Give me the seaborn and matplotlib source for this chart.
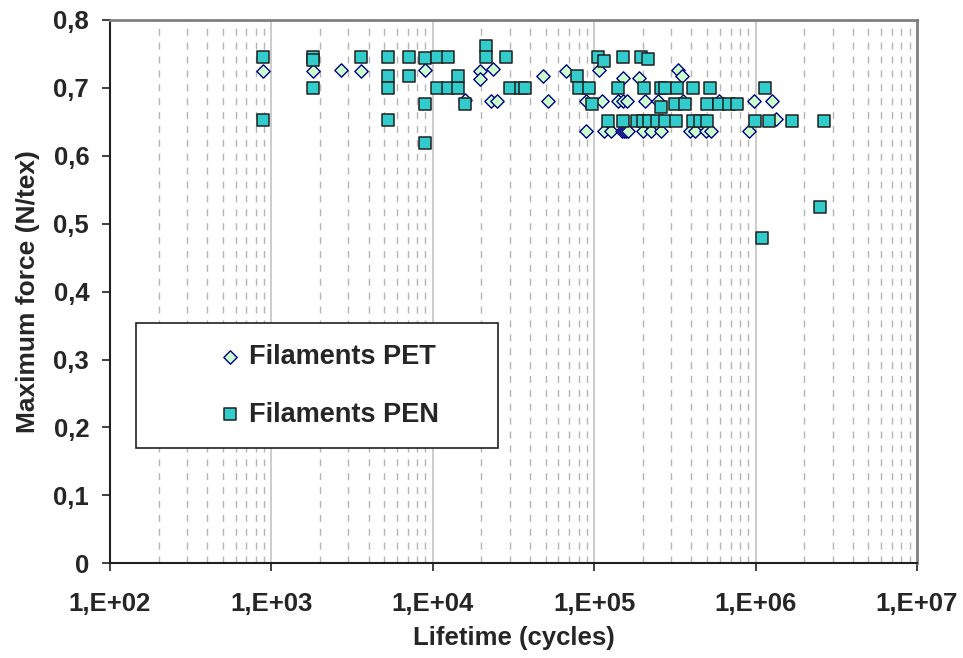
import numpy as np
import pandas as pd
import seaborn as sns
import matplotlib.pyplot as plt
from matplotlib.patches import Rectangle

# PET filaments (diamonds)
pet_life = [890, 1800, 2700, 3600, 9000,
            1.59e4, 1.96e4, 1.96e4, 2.35e4, 2.3e4, 2.5e4, 4.8e4, 5.2e4, 6.7e4,
            8.9e4, 1.11e5, 1.41e5, 1.5e5, 1.59e5, 2.06e5, 2.5e5, 3.56e5, 5.95e5, 9.8e5, 1.27e6,
            1.07e5, 1.51e5, 1.89e5, 3.3e5, 3.5e5,
            8.9e4, 1.15e5, 1.27e5, 1.48e5, 1.53e5, 1.58e5, 1.63e5, 2.0e5, 2.24e5, 2.6e5,
            3.9e5, 4.2e5, 4.9e5, 5.3e5, 9.1e5,
            1.34e6]
pet_force = [0.725, 0.725, 0.727, 0.725, 0.727,
             0.682, 0.725, 0.713, 0.728, 0.681, 0.681, 0.718, 0.681, 0.725,
             0.681, 0.681, 0.681, 0.681, 0.681, 0.681, 0.681, 0.681, 0.681, 0.681, 0.681,
             0.727, 0.715, 0.714, 0.727, 0.718,
             0.636, 0.636, 0.636, 0.636, 0.636, 0.636, 0.636, 0.636, 0.636, 0.636,
             0.636, 0.636, 0.636, 0.636, 0.636,
             0.654]

# PEN filaments (squares)
pen_life = [890, 890, 1800, 1800, 1800, 3570,
            5300, 5300, 5300, 5300, 7100, 7100, 8970, 8970, 8970,
            1.06e4, 1.24e4, 1.06e4, 1.24e4, 1.43e4, 1.43e4, 1.59e4,
            2.14e4, 2.14e4, 2.85e4, 3.0e4, 3.5e4, 3.7e4,
            7.8e4, 8.0e4, 9.3e4, 1.05e5, 1.15e5, 9.7e4,
            1.22e5, 1.5e5, 1.83e5, 2.0e5, 2.19e5, 2.44e5, 2.74e5, 3.19e5, 4.1e5, 4.5e5, 4.97e5,
            9.9e5, 1.21e6, 1.69e6, 2.65e6,
            1.41e5, 2.04e5, 2.6e5, 2.74e5, 3.24e5, 4.07e5, 5.2e5, 1.15e6,
            2.6e5, 3.16e5, 3.67e5, 4.97e5, 5.95e5, 6.8e5, 7.7e5,
            1.5e5, 1.96e5, 2.14e5,
            2.52e6, 1.1e6]
pen_force = [0.746, 0.653, 0.746, 0.741, 0.700, 0.746,
             0.746, 0.718, 0.700, 0.653, 0.746, 0.718, 0.744, 0.676, 0.619,
             0.746, 0.746, 0.700, 0.700, 0.700, 0.718, 0.676,
             0.761, 0.746, 0.746, 0.700, 0.700, 0.700,
             0.718, 0.700, 0.700, 0.745, 0.739, 0.676,
             0.652, 0.652, 0.652, 0.652, 0.652, 0.652, 0.652, 0.652, 0.652, 0.652, 0.652,
             0.652, 0.652, 0.652, 0.652,
             0.700, 0.700, 0.700, 0.700, 0.700, 0.700, 0.700, 0.700,
             0.672, 0.676, 0.676, 0.676, 0.676, 0.676, 0.676,
             0.746, 0.746, 0.742,
             0.524, 0.479]

x_ticks = [1e2, 1e3, 1e4, 1e5, 1e6, 1e7]
x_labels = ['1,E+02', '1,E+03', '1,E+04', '1,E+05', '1,E+06', '1,E+07']
y_ticks = [0, 0.1, 0.2, 0.3, 0.4, 0.5, 0.6, 0.7, 0.8]
y_labels = ['0', '0,1', '0,2', '0,3', '0,4', '0,5', '0,6', '0,7', '0,8']

sns.set_style('white')
plt.rcParams['font.family'] = ['Liberation Sans', 'DejaVu Sans']
plt.rcParams['font.weight'] = 'bold'

pet = pd.DataFrame({'life': pet_life, 'force': pet_force})
pen = pd.DataFrame({'life': pen_life, 'force': pen_force})

fig = plt.figure(figsize=(9.63, 6.58), dpi=100)
ax = fig.add_axes([110/963, 1-563.3/658, (917-110)/963, (563.3-20)/658])

sns.scatterplot(data=pet, x='life', y='force', marker='D', s=46, color='#ccffcc',
                edgecolor='#000080', linewidth=1.0, ax=ax, label='Filaments PET', zorder=3)
sns.scatterplot(data=pen, x='life', y='force', marker='s', s=72, color='#33cccc',
                edgecolor='#202020', linewidth=1.1, ax=ax, label='Filaments PEN', zorder=4)

ax.set_xscale('log')
ax.set_xlim(1e2, 1e7)
ax.set_ylim(0, 0.8)
ax.set_xticks(x_ticks)
ax.set_xticklabels(x_labels)
ax.set_yticks(y_ticks)
ax.set_yticklabels(y_labels)
ax.xaxis.set_minor_locator(plt.matplotlib.ticker.LogLocator(base=10, subs=np.arange(2, 10)))
ax.xaxis.set_minor_formatter(plt.matplotlib.ticker.NullFormatter())

ax.grid(True, which='major', axis='x', color='#cccccc', linewidth=1.4, linestyle='-')
ax.grid(True, which='minor', axis='x', color='#b4b4b4', linewidth=1.0, linestyle=(0, (5, 5)))
ax.grid(False, axis='y')
ax.set_axisbelow(True)

ax.tick_params(axis='both', which='major', direction='out', length=6, width=1.2,
               color='#202020', labelsize=18.5, left=True, bottom=True)
ax.tick_params(axis='x', which='major', pad=15)
ax.tick_params(axis='y', which='major', pad=9)
ax.tick_params(axis='x', which='minor', length=0)

for side in ['top', 'right']:
    ax.spines[side].set_color('#808080')
    ax.spines[side].set_linewidth(2)
for side in ['left', 'bottom']:
    ax.spines[side].set_color('#202020')
    ax.spines[side].set_linewidth(1.5)

ax.set_xlabel('Lifetime (cycles)', fontsize=18.5, fontweight='bold', labelpad=7)
ax.set_ylabel('Maximum force (N/tex)', fontsize=19, fontweight='bold', labelpad=10)

ax.add_patch(Rectangle((135.7/963, 1-447.7/658), (497.7-135.7)/963, 125/658,
                       transform=fig.transFigure, facecolor='white', edgecolor='#202020',
                       linewidth=1.2, zorder=4.5, clip_on=False))
leg = ax.legend(loc='center left', bbox_to_anchor=(208.7/963, 1-386/658),
                bbox_transform=fig.transFigure, frameon=False, borderpad=0,
                handlelength=0.6, handletextpad=0.38, labelspacing=1.15,
                prop={'size': 19.5, 'weight': 'bold'})
leg.set_zorder(5)

fig.savefig('out.png', dpi=100)
